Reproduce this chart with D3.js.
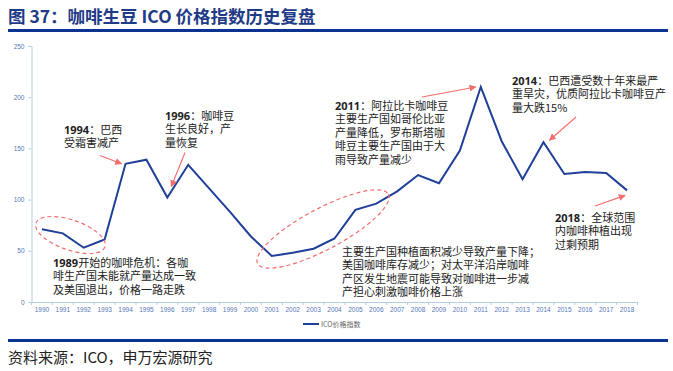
<!DOCTYPE html>
<html>
<head>
<meta charset="utf-8">
<script src="https://cdn.jsdelivr.net/npm/d3@7"></script>
<style>
  body { margin: 0; background: #fff; }
  svg { display: block; font-family: "Noto Sans CJK SC", "Noto Sans", sans-serif; }
</style>
</head>
<body>
<svg id="chart" width="673" height="371"></svg>
<script>
// ICO coffee price index, yearly
const years = ['1990','1991','1992','1993','1994','1995','1996','1997','1998','1999',
  '2000','2001','2002','2003','2004','2005','2006','2007','2008','2009',
  '2010','2011','2012','2013','2014','2015','2016','2017','2018'];
const icoIndex = [71, 67, 53, 61, 135, 139, 102, 134, 111, 88,
  64, 45, 48, 52, 62, 90, 96, 108, 124, 116,
  148, 210, 157, 120, 156, 125, 127, 126, 109];
const yTicks = [0, 50, 100, 150, 200, 250];
const seriesName = 'ICO价格指数';

const notes = [
  { year: '1994', lines: ['巴西', '受霜害减产'] },
  { year: '1996', lines: ['咖啡豆', '生长良好，产', '量恢复'] },
  { year: '1989', lines: ['开始的咖啡危机：各咖', '啡生产国未能就产量达成一致', '及美国退出，价格一路走跌'] },
  { year: '2011', lines: ['阿拉比卡咖啡豆', '主要生产国如哥伦比亚', '产量降低，罗布斯塔咖', '啡豆主要生产国由于大', '雨导致产量减少'] },
  { year: '', lines: ['主要生产国种植面积减少导致产量下降；', '美国咖啡库存减少；对太平洋沿岸咖啡', '产区发生地震可能导致对咖啡进一步减', '产担心刺激咖啡价格上涨'] },
  { year: '2014', lines: ['巴西遭受数十年来最严', '重旱灾，优质阿拉比卡咖啡豆产', '量大跌15%'] },
  { year: '2018', lines: ['全球范围', '内咖啡种植出现', '过剩预期'] }
];

const svg = d3.select('#chart');
const blue = '#1f3f99';
const red = '#f26d6d';

// header
svg.append('text').attr('x', 8).attr('y', 23)
  .attr('font-size', 17.5).attr('font-weight', 700).attr('fill', '#1f3a86')
  .text('图 37：咖啡生豆 ICO 价格指数历史复盘');
svg.append('rect').attr('x', 8).attr('y', 29).attr('width', 660).attr('height', 3).attr('fill', '#0c3391');
svg.append('rect').attr('x', 8).attr('y', 339).attr('width', 660).attr('height', 3).attr('fill', '#0c3391');
svg.append('text').attr('x', 8).attr('y', 363)
  .attr('font-size', 15).attr('fill', '#222')
  .text('资料来源：ICO，申万宏源研究');

const x = d3.scaleBand().domain(years).range([31.5, 637.5]).padding(0);
const y = d3.scaleLinear().domain([0, 250]).range([302, 46]);

// axes
const axisColor = '#b4cde9';
const labelColor = '#5677b8';
const gx = svg.append('g').attr('transform', 'translate(0,302)')
  .call(d3.axisBottom(x).tickSize(0).tickPadding(5));
gx.select('.domain').attr('stroke', axisColor);
gx.selectAll('text').attr('font-size', 6.5).attr('fill', labelColor)
  .attr('font-family', 'Liberation Sans, sans-serif');
gx.selectAll('.sep').data(years.concat(['end'])).enter().append('line')
  .attr('class', 'sep')
  .attr('x1', (d, i) => 31.5 + i * x.step()).attr('x2', (d, i) => 31.5 + i * x.step())
  .attr('y1', 0).attr('y2', 3).attr('stroke', axisColor);

const gy = svg.append('g').attr('transform', 'translate(31.5,0)')
  .call(d3.axisLeft(y).tickValues(yTicks).tickSize(3).tickPadding(4));
gy.select('.domain').attr('stroke', axisColor);
gy.selectAll('line').attr('stroke', axisColor);
gy.selectAll('text').attr('font-size', 6.5).attr('fill', labelColor)
  .attr('font-family', 'Liberation Sans, sans-serif');

// series line
const line = d3.line()
  .x((d, i) => x(years[i]) + x.bandwidth() / 2)
  .y(d => y(d));
svg.append('path').datum(icoIndex)
  .attr('d', line).attr('fill', 'none')
  .attr('stroke', blue).attr('stroke-width', 2).attr('stroke-linejoin', 'miter');

// legend
svg.append('line').attr('x1', 303).attr('x2', 319).attr('y1', 324).attr('y2', 324)
  .attr('stroke', blue).attr('stroke-width', 2);
svg.append('text').attr('x', 321).attr('y', 326.5)
  .attr('font-size', 7).attr('fill', '#666').text(seriesName);

// annotation text blocks
const notePos = [[64, 130], [165, 116], [53, 263], [335, 106], [342, 252], [512, 81], [555, 218]];
notes.forEach((n, k) => {
  const t = svg.append('text').attr('font-size', 11).attr('fill', '#222');
  n.lines.forEach((s, i) => {
    const ts = t.append('tspan').attr('x', notePos[k][0]).attr('y', notePos[k][1] + 4 + i * 13.4);
    if (i === 0 && n.year) {
      ts.append('tspan').attr('font-weight', 700)
        .attr('font-family', '"Open Sans", "DejaVu Sans", sans-serif').text(n.year);
      if (k !== 2) ts.append('tspan').text('：');
    }
    ts.append('tspan').text(s);
  });
});

// arrows
const defs = svg.append('defs');
defs.append('marker').attr('id', 'ah').attr('viewBox', '0 0 10 10')
  .attr('refX', 9).attr('refY', 5).attr('markerWidth', 7).attr('markerHeight', 7)
  .attr('orient', 'auto').attr('markerUnits', 'userSpaceOnUse')
  .append('path').attr('d', 'M0,0L10,5L0,10z').attr('fill', red);

const px = yr => x(yr) + x.bandwidth() / 2;
const py = yr => y(icoIndex[years.indexOf(yr)]);
const arrows = [
  [100, 155.5, px('1994') - 4, py('1994')],
  [185, 152.5, px('1996') + 4, py('1996') - 11],
  [422, 97, px('2011') - 5, py('2011')],
  [576, 117, px('2014') + 6, py('2014') - 2],
  [595, 206, px('2018') - 2, py('2018') + 5]
];
arrows.forEach(a => {
  svg.append('line').attr('x1', a[0]).attr('y1', a[1]).attr('x2', a[2]).attr('y2', a[3])
    .attr('stroke', red).attr('stroke-width', 1.1).attr('marker-end', 'url(#ah)');
});

// dashed ellipses
const ellipses = [[70.5, 235, 36.5, 15, 19], [323, 229, 74, 20.5, -28]];
ellipses.forEach(e => {
  svg.append('ellipse').attr('cx', 0).attr('cy', 0).attr('rx', e[2]).attr('ry', e[3])
    .attr('transform', `translate(${e[0]},${e[1]}) rotate(${e[4]})`)
    .attr('fill', 'none').attr('stroke', red).attr('stroke-width', 1.2)
    .attr('stroke-dasharray', '4,3');
});
</script>
</body>
</html>
